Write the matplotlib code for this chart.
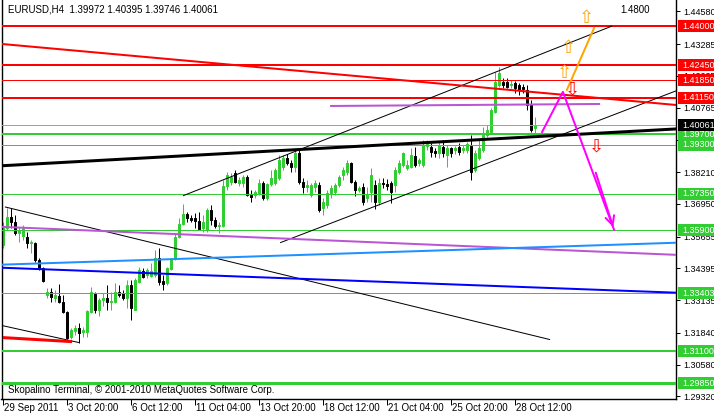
import numpy as np
import matplotlib.pyplot as plt
from matplotlib.patches import Rectangle

plt.rcParams['font.family'] = ['Liberation Sans', 'DejaVu Sans']

# EURUSD H4 bars (bar 0 = 29 Sep 2011 04:00)
opens = [1.3533, 1.3600, 1.3644, 1.3624, 1.3580, 1.3568, 1.3564, 1.3541, 1.3541, 1.3473,
         1.3442, 1.3335, 1.3347, 1.3323, 1.3331, 1.3307, 1.3267, 1.3168, 1.3192, 1.3204,
         1.3188, 1.3188, 1.3267, 1.3339, 1.3275, 1.3315, 1.3323, 1.3307, 1.3307, 1.3347,
         1.3343, 1.3323, 1.3374, 1.3275, 1.3386, 1.3430, 1.3414, 1.3410, 1.3414, 1.3481,
         1.3390, 1.3382, 1.3438, 1.3477, 1.3564, 1.3616, 1.3656, 1.3640, 1.3640, 1.3628,
         1.3600, 1.3592, 1.3671, 1.3632, 1.3608, 1.3608, 1.3766, 1.3782, 1.3818, 1.3778,
         1.3778, 1.3802, 1.3731, 1.3731, 1.3739, 1.3778, 1.3719, 1.3774, 1.3778, 1.3798,
         1.3842, 1.3877, 1.3858, 1.3842, 1.3897, 1.3782, 1.3762, 1.3731, 1.3762, 1.3770,
         1.3679, 1.3691, 1.3739, 1.3743, 1.3770, 1.3810, 1.3822, 1.3858, 1.3782, 1.3751,
         1.3762, 1.3719, 1.3743, 1.3770, 1.3703, 1.3778, 1.3774, 1.3778, 1.3770, 1.3822,
         1.3850, 1.3838, 1.3842, 1.3885, 1.3858, 1.3850, 1.3925, 1.3921, 1.3905, 1.3897,
         1.3921, 1.3889, 1.3917, 1.3909, 1.3921, 1.3909, 1.3909, 1.3925, 1.3830, 1.3877,
         1.3909, 1.3968, 1.3980, 1.4059, 1.4166, 1.4178, 1.4178, 1.4166, 1.4174, 1.4166,
         1.4158, 1.4147, 1.4087, 1.39972]
highs = [1.3624, 1.3679, 1.3679, 1.3652, 1.3604, 1.3612, 1.3584, 1.3553, 1.3545, 1.3481,
         1.3446, 1.3363, 1.3363, 1.3355, 1.3378, 1.3335, 1.3271, 1.3204, 1.3216, 1.3224,
         1.3208, 1.3275, 1.3366, 1.3347, 1.3323, 1.3343, 1.3374, 1.3347, 1.3382, 1.3374,
         1.3355, 1.3394, 1.3394, 1.3402, 1.3446, 1.3442, 1.3442, 1.3462, 1.3513, 1.3521,
         1.3414, 1.3446, 1.3481, 1.3580, 1.3640, 1.3695, 1.3663, 1.3652, 1.3660, 1.3663,
         1.3652, 1.3679, 1.3691, 1.3644, 1.3624, 1.3790, 1.3822, 1.3818, 1.3830, 1.3802,
         1.3810, 1.3810, 1.3751, 1.3751, 1.3794, 1.3786, 1.3778, 1.3830, 1.3838, 1.3889,
         1.3889, 1.3893, 1.3869, 1.3909, 1.3909, 1.3798, 1.3790, 1.3778, 1.3790, 1.3782,
         1.3719, 1.3751, 1.3770, 1.3778, 1.3810, 1.3842, 1.3869, 1.3861, 1.3790, 1.3766,
         1.3778, 1.3762, 1.3838, 1.3790, 1.3798, 1.3798, 1.3794, 1.3786, 1.3842, 1.3869,
         1.3901, 1.3869, 1.3917, 1.3921, 1.3877, 1.3949, 1.3949, 1.3937, 1.3917, 1.3941,
         1.3949, 1.3929, 1.3921, 1.3925, 1.3937, 1.3929, 1.3941, 1.3968, 1.3909, 1.3949,
         1.4000, 1.4008, 1.4075, 1.4218, 1.4238, 1.4194, 1.4194, 1.4186, 1.4182, 1.4174,
         1.4170, 1.4166, 1.4107, 1.40395]
lows = [1.3521, 1.3592, 1.3600, 1.3572, 1.3545, 1.3553, 1.3521, 1.3501, 1.3465, 1.3434,
        1.3386, 1.3323, 1.3307, 1.3307, 1.3303, 1.3264, 1.3161, 1.3161, 1.3176, 1.3145,
        1.3168, 1.3168, 1.3264, 1.3264, 1.3252, 1.3291, 1.3275, 1.3275, 1.3303, 1.3327,
        1.3315, 1.3283, 1.3236, 1.3275, 1.3382, 1.3402, 1.3402, 1.3406, 1.3406, 1.3374,
        1.3355, 1.3374, 1.3434, 1.3473, 1.3560, 1.3612, 1.3624, 1.3624, 1.3600, 1.3592,
        1.3584, 1.3584, 1.3612, 1.3600, 1.3580, 1.3604, 1.3751, 1.3770, 1.3778, 1.3766,
        1.3762, 1.3727, 1.3703, 1.3719, 1.3731, 1.3711, 1.3711, 1.3766, 1.3770, 1.3790,
        1.3830, 1.3850, 1.3822, 1.3822, 1.3774, 1.3739, 1.3743, 1.3723, 1.3743, 1.3663,
        1.3652, 1.3679, 1.3719, 1.3731, 1.3762, 1.3790, 1.3810, 1.3778, 1.3727, 1.3743,
        1.3691, 1.3703, 1.3703, 1.3675, 1.3691, 1.3759, 1.3751, 1.3699, 1.3743, 1.3814,
        1.3842, 1.3830, 1.3838, 1.3842, 1.3846, 1.3842, 1.3909, 1.3881, 1.3881, 1.3877,
        1.3881, 1.3842, 1.3881, 1.3893, 1.3889, 1.3897, 1.3897, 1.3790, 1.3822, 1.3869,
        1.3901, 1.3960, 1.3976, 1.4056, 1.4158, 1.4155, 1.4155, 1.4155, 1.4135, 1.4127,
        1.4135, 1.4067, 1.3980, 1.39746]
closes = [1.3600, 1.3644, 1.3624, 1.3580, 1.3592, 1.3600, 1.3541, 1.3545, 1.3473, 1.3442,
          1.3390, 1.3347, 1.3327, 1.3335, 1.3307, 1.3267, 1.3165, 1.3196, 1.3204, 1.3184,
          1.3196, 1.3271, 1.3347, 1.3275, 1.3315, 1.3323, 1.3307, 1.3311, 1.3347, 1.3335,
          1.3323, 1.3374, 1.3283, 1.3394, 1.3434, 1.3406, 1.3434, 1.3430, 1.3481, 1.3386,
          1.3378, 1.3442, 1.3477, 1.3564, 1.3616, 1.3656, 1.3640, 1.3632, 1.3628, 1.3596,
          1.3624, 1.3671, 1.3632, 1.3608, 1.3612, 1.3766, 1.3810, 1.3802, 1.3782, 1.3790,
          1.3802, 1.3731, 1.3723, 1.3743, 1.3778, 1.3719, 1.3774, 1.3798, 1.3830, 1.3869,
          1.3877, 1.3858, 1.3842, 1.3897, 1.3782, 1.3762, 1.3770, 1.3770, 1.3778, 1.3671,
          1.3703, 1.3739, 1.3759, 1.3770, 1.3802, 1.3830, 1.3858, 1.3782, 1.3751, 1.3759,
          1.3703, 1.3731, 1.3810, 1.3703, 1.3778, 1.3774, 1.3766, 1.3743, 1.3830, 1.3858,
          1.3897, 1.3850, 1.3889, 1.3850, 1.3869, 1.3929, 1.3933, 1.3901, 1.3897, 1.3929,
          1.3897, 1.3917, 1.3897, 1.3917, 1.3901, 1.3917, 1.3933, 1.3822, 1.3897, 1.3917,
          1.3968, 1.3988, 1.4067, 1.4178, 1.4214, 1.4166, 1.4158, 1.4170, 1.4155, 1.4147,
          1.4151, 1.4087, 1.3988, 1.40061]

date_ticks = [0, 16, 32, 48, 64, 80, 96, 112, 128]
date_labels = ['29 Sep 2011', '3 Oct 20:00', '6 Oct 12:00', '11 Oct 04:00', '13 Oct 20:00',
               '18 Oct 12:00', '21 Oct 04:00', '25 Oct 20:00', '28 Oct 12:00']

price_ticks = [1.44580, 1.43285, 1.42025, 1.40765, 1.39470, 1.38210, 1.36950,
               1.35655, 1.34395, 1.33135, 1.31840, 1.30580, 1.29320]

# horizontal levels: price, colour, width(px)
level_prices = [1.44000, 1.42450, 1.41850, 1.41150, 1.39700, 1.39300, 1.37350,
                1.35900, 1.33403, 1.31100, 1.29850]
level_colors = ['#ff0000'] * 4 + ['#32cd32'] * 7
level_widths = [2, 2, 1, 2, 2, 1, 1, 1, 1, 2, 3]
bid = 1.40061

# trend lines: (bar0, price0, bar1, price1, colour, width px)
trend_lines = [
    (44.9, 1.3727, 152.2, 1.4400, 'black', 1),
    (69.2, 1.3541, 168.2, 1.4143, 'black', 1),
    (0.4, 1.3683, 136.7, 1.3157, 'black', 1),
    (-0.1, 1.3212, 19.0, 1.3145, 'black', 1),
    (-0.5, 1.3846, 168.2, 1.3992, 'black', 3),
    (-0.5, 1.4329, 168.2, 1.4087, '#ff0000', 2),
    (-0.1, 1.3165, 17.2, 1.3149, '#ff0000', 3),
    (81.7, 1.4083, 149.2, 1.4091, '#ba55d3', 2),
    (-0.5, 1.3604, 168.2, 1.3493, '#ba55d3', 2),
    (-0.5, 1.3454, 168.2, 1.3541, '#1e90ff', 2),
    (-0.5, 1.3442, 168.2, 1.3343, '#0000ff', 2),
]
magenta_bars = [134.7, 139.9, 152.7]
magenta_prices = [1.3980, 1.4139, 1.3592]
orange_bars = [140.9, 147.7]
orange_prices = [1.4147, 1.4392]
up_arrows = [(145.9, 1.4432), (141.2, 1.4313), (140.4, 1.4214)]
down_arrows = [(142.2, 1.4147), (148.4, 1.3921)]

PX = 0.72  # one pixel in points
W, H = 714, 416
fig = plt.figure(figsize=(W / 100, H / 100), dpi=100)
ax = fig.add_axes([1.5 / W, 17 / H, 674.5 / W, 399 / H])
ax.set_xlim(-0.45, -0.45 + 674.5 / 4)
ax.set_ylim(1.29216, 1.45031)

# candles
x = np.arange(len(closes))
o, h, l, c = map(np.array, (opens, highs, lows, closes))
up = c >= o
cols = np.where(up, '#32cd32', 'black')
ax.vlines(x, l, h, colors=cols, lw=PX, zorder=2)
ax.bar(x, c - o, bottom=o, width=0.5, color=cols, edgecolor=cols, lw=PX, zorder=2)

# objects
for p, col, w in zip(level_prices, level_colors, level_widths):
    ax.axhline(p, color=col, lw=w * PX, zorder=3)
ax.axhline(bid, color='#a0a0a8', lw=PX, zorder=3)
for b0, p0, b1, p1, col, w in trend_lines:
    ax.plot([b0, b1], [p0, p1], color=col, lw=w * PX, zorder=4, solid_capstyle='butt')
ax.plot(magenta_bars, magenta_prices, color='#ff00ff', lw=2 * PX, zorder=5)
ax.annotate('', xy=(magenta_bars[-1], magenta_prices[-1]),
            xytext=(magenta_bars[-2] + 8, magenta_prices[-2] - 0.031),
            arrowprops=dict(arrowstyle='->', color='#ff00ff', lw=2 * PX,
                            mutation_scale=16), zorder=5)
ax.plot(orange_bars, orange_prices, color='#ffa500', lw=2 * PX, zorder=5)
for b, p in up_arrows:
    ax.text(b, p, '\u21e7', color='#ffa500', fontsize=13, ha='center', va='center',
            family='DejaVu Sans', zorder=6)
for b, p in down_arrows:
    ax.text(b, p, '\u21e9', color='#ff0000', fontsize=13, ha='center', va='center',
            family='DejaVu Sans', zorder=6)
ax.text(154.2, 1.4463, '1.4800', fontsize=7, va='center', ha='left')

ax.text(6 / 674.5, 1 - 10 / 399, 'EURUSD,H4  1.39972 1.40395 1.39746 1.40061',
        transform=ax.transAxes, fontsize=7, va='center', ha='left')
ax.text(6 / 674.5, 9 / 399, 'Skopalino Terminal, \u00a9 2001-2010 MetaQuotes Software Corp.',
        transform=ax.transAxes, fontsize=7, va='center', ha='left')

# axes look
ax.spines['top'].set_visible(False)
for s in ['left', 'right', 'bottom']:
    ax.spines[s].set_linewidth(PX * 1.4)
ax.yaxis.tick_right()
ax.set_yticks(price_ticks)
ax.set_yticklabels(['%.5f' % p for p in price_ticks])
ax.tick_params(axis='y', length=3, width=PX, pad=2, labelsize=6.5)
ax.set_xticks(date_ticks)
ax.set_xticklabels([])
ax.tick_params(axis='x', length=4, width=PX)
for b, lab in zip(date_ticks, date_labels):
    ax.text(b + 0.3, -9 / 399, lab, transform=ax.get_xaxis_transform(),
            fontsize=7, va='center', ha='left', clip_on=False)

# price labels on the right scale
box_h = 12 / 2523
for p, col in zip(level_prices + [bid], level_colors + ['black']):
    ax.add_patch(Rectangle((1 + 2 / 674.5, p - box_h / 2), 38 / 674.5, box_h,
                           transform=ax.get_yaxis_transform(), facecolor=col,
                           edgecolor='none', clip_on=False, zorder=10))
    ax.text(1 + 6 / 674.5, p, '%.5f' % p, transform=ax.get_yaxis_transform(),
            color='white', fontsize=6.5, va='center', ha='left', clip_on=False, zorder=11)

fig.savefig('out.png', dpi=100)
